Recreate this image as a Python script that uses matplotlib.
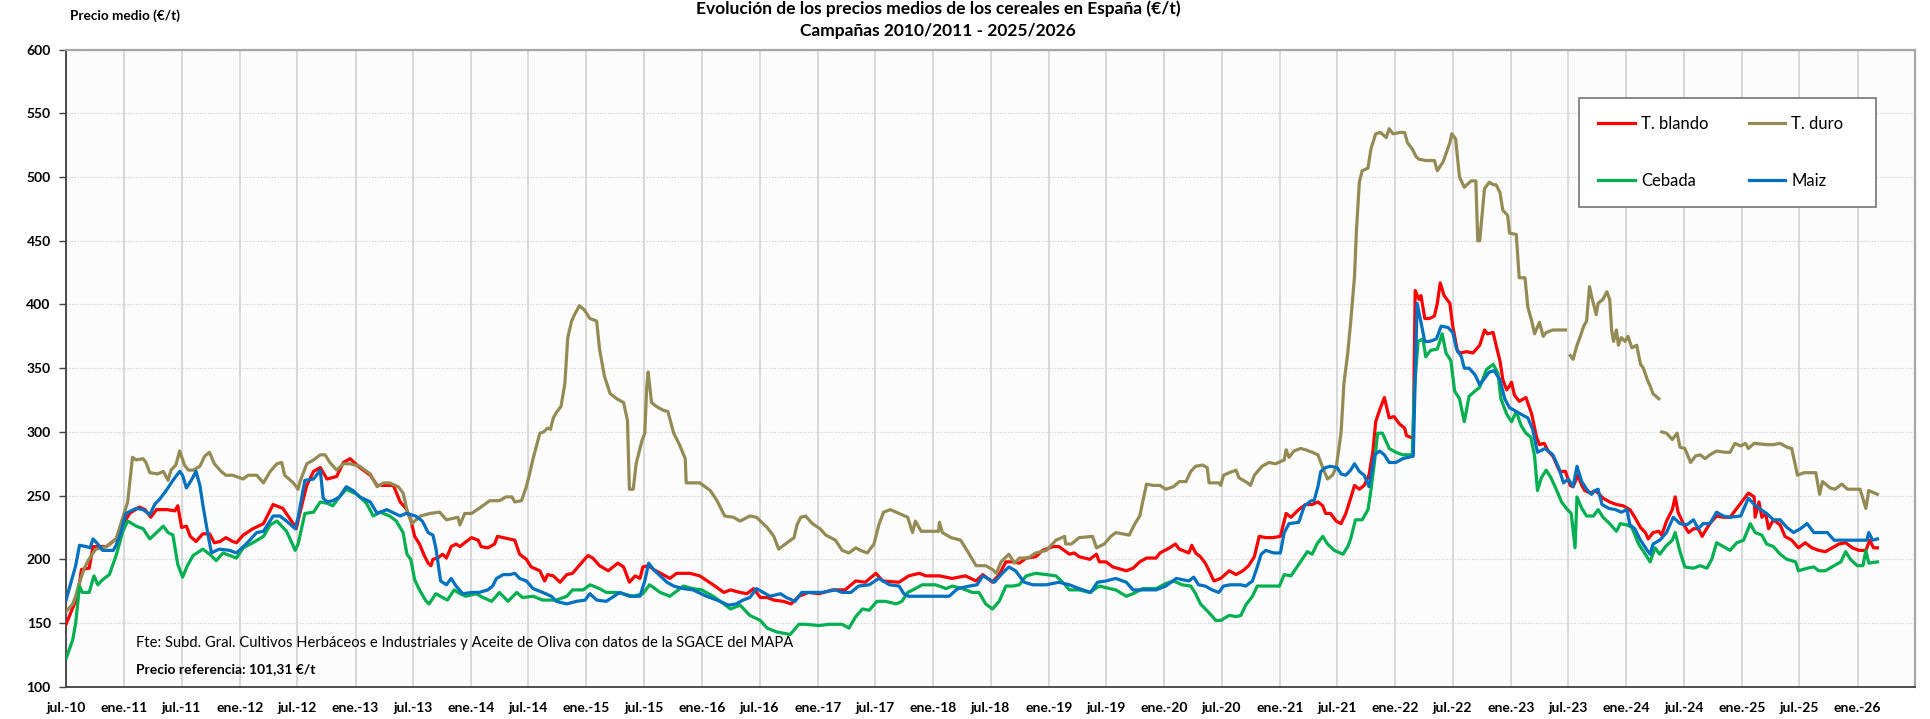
import numpy as np
import pandas as pd
import matplotlib
matplotlib.use("Agg")
import matplotlib.pyplot as plt
from matplotlib.patches import Rectangle

plt.rcParams['font.family'] = ['Lato', 'DejaVu Sans']

# ---------------- data (month offset from 1-jul-2010, price €/t) ----------------
T_BLANDO = [(0,149),(0.7,162),(1.2,171),(1.6,192),(2.4,193),(2.8,210),(4.2,210),(5.2,216),(5.9,227),(6.6,236),(7.6,241),(8.2,239),(8.8,233),(9.4,239),(10.5,239),(11.3,238),(11.6,242),(12.0,225),(12.5,226),(12.9,218),(13.5,214),(14.2,220),(14.9,220),(15.4,213),(16.0,214),(16.6,217),(17.3,214),(17.7,213),(18.4,219),(19.4,224),(20.5,228),(21.5,243),(22.5,240),(23.6,228),(23.9,224),(24.4,240),(25.0,258),(25.7,269),(26.4,272),(27.1,263),(28.1,265),(28.8,276),(29.5,279),(30.5,272),(31.6,266),(32.3,258),(34.0,258),(34.7,245),(35.3,240),(35.8,231),(36.2,218),(36.7,212),(37.2,203),(37.6,197),(37.9,195),(38.1,200),(38.6,201),(39.1,204),(39.5,201),(40.0,210),(40.5,212),(40.9,210),(41.4,213),(42.1,217),(42.8,215),(43.1,210),(43.8,209),(44.5,212),(44.8,218),(45.4,217),(46.6,215),(47.1,204),(47.8,200),(48.3,194),(49.2,191),(49.7,183),(50.0,188),(50.6,187),(51.3,182),(52.0,188),(52.6,189),(53.5,197),(54.2,203),(54.7,201),(55.4,195),(56.3,191),(57.3,197),(57.9,194),(58.5,182),(59.1,187),(59.6,185),(59.9,194),(60.5,195),(61.0,192),(62.0,188),(62.7,185),(63.4,189),(64.8,189),(65.8,187),(67.2,180),(68.3,174),(69.0,176),(70.0,174),(70.7,173),(71.4,177),(72.1,170),(72.8,170),(73.5,168),(74.5,167),(75.3,165),(76.1,171),(77.1,174),(78.2,173),(79.6,176),(80.9,176),(82.0,183),(83.0,182),(84.1,189),(84.8,183),(86.5,182),(87.5,187),(88.6,189),(89.3,187),(90.7,187),(92.0,185),(93.4,187),(94.5,183),(95.2,188),(96.2,182),(96.9,188),(97.6,198),(98.3,198),(99.0,197),(99.7,201),(100.7,202),(101.4,207),(102.5,210),(103.1,210),(104.2,204),(104.7,205),(105.2,202),(106.3,200),(107.0,204),(107.3,198),(108.0,198),(108.7,194),(110.1,191),(110.8,193),(111.5,198),(112.2,201),(113.2,201),(113.6,205),(114.6,209),(115.2,212),(115.6,208),(116.6,205),(116.9,211),(117.3,205),(117.8,202),(118.3,197),(118.7,191),(119.2,183),(119.9,185),(120.8,191),(121.5,188),(122.2,191),(122.8,195),(123.4,202),(123.9,218),(124.6,217),(125.3,217),(126.1,218),(126.7,236),(127.2,233),(128.0,239),(128.7,243),(129.4,243),(130.0,245),(130.5,242),(130.8,236),(131.3,236),(131.9,230),(132.4,228),(132.9,236),(133.4,248),(133.8,258),(134.3,255),(134.8,258),(135.3,266),(135.7,284),(136.0,308),(136.4,317),(136.9,327),(137.4,311),(137.9,312),(138.5,306),(139.0,303),(139.2,297),(139.9,295),(140.1,411),(140.5,404),(140.7,407),(141.1,389),(141.6,389),(142.1,391),(142.4,401),(142.7,417),(143.1,407),(143.7,401),(144.0,383),(144.5,363),(144.9,362),(145.4,363),(146.1,362),(146.8,368),(147.3,380),(147.6,377),(148.2,378),(148.5,368),(148.9,356),(149.2,341),(149.6,333),(149.9,336),(150.1,339),(150.4,329),(150.9,324),(151.6,327),(152.2,314),(152.7,296),(153.0,290),(153.5,291),(153.9,285),(154.4,281),(155.1,269),(155.7,269),(156.2,258),(156.5,257),(157.0,266),(157.4,258),(157.7,254),(158.3,252),(158.8,254),(159.1,252),(159.6,248),(160.3,245),(161.0,243),(161.7,242),(162.4,239),(162.9,233),(163.5,225),(164.0,221),(164.3,216),(164.8,221),(165.4,222),(165.7,219),(166.2,230),(166.8,239),(167.1,249),(167.4,237),(168.0,227),(168.5,221),(169.0,224),(169.5,224),(169.9,218),(170.2,222),(170.7,228),(171.4,234),(172.1,233),(172.8,233),(173.5,240),(174.0,245),(174.7,252),(175.3,249),(175.4,233),(175.8,245),(176.1,233),(176.5,236),(176.8,224),(177.3,231),(178.0,227),(178.5,218),(179.2,215),(179.9,209),(180.6,213),(181.3,209),(182.0,207),(182.7,206),(183.4,209),(184.1,212),(184.8,213),(185.5,209),(186.2,207),(186.9,207),(187.3,215),(187.7,209),(188.1,209)]

T_DURO = [(0,159),(0.7,165),(1.0,171),(1.4,182),(1.9,193),(2.3,199),(2.8,205),(3.1,208),(4.2,210),(5.2,216),(5.9,233),(6.4,245),(6.9,280),(7.3,278),(8.0,279),(8.3,276),(8.7,268),(9.5,267),(10.1,269),(10.6,262),(10.9,270),(11.4,274),(11.8,285),(12.3,274),(12.7,270),(13.2,270),(13.9,273),(14.4,281),(14.9,284),(15.4,275),(16.1,269),(16.6,266),(17.3,266),(18.4,263),(18.9,266),(19.8,266),(20.5,260),(21.2,269),(21.9,275),(22.4,276),(22.7,266),(23.6,260),(24.1,255),(24.3,261),(25.0,275),(25.7,278),(26.4,282),(26.9,282),(27.4,276),(28.1,270),(28.8,275),(29.5,275),(30.5,273),(31.6,267),(32.3,257),(33.0,260),(33.6,260),(34.5,257),(35.0,252),(35.4,239),(35.9,228),(36.8,234),(37.8,236),(38.8,237),(39.5,231),(40.7,233),(40.9,227),(41.4,236),(42.1,236),(42.9,240),(44.0,246),(45.0,246),(45.7,249),(46.3,249),(46.6,245),(47.3,246),(47.8,257),(48.1,266),(48.5,279),(49.2,299),(49.6,300),(50.0,303),(50.3,302),(50.6,311),(50.9,315),(51.4,320),(51.8,338),(52.1,374),(52.5,387),(52.8,392),(53.3,399),(53.8,396),(54.4,389),(55.1,387),(55.4,365),(55.9,344),(56.5,330),(57.2,326),(57.9,323),(58.3,309),(58.5,255),(58.9,255),(59.2,275),(59.8,293),(60.1,299),(60.3,335),(60.45,347),(60.8,323),(61.3,320),(62.0,317),(62.5,316),(63.1,299),(63.7,290),(64.3,279),(64.4,260),(65.8,260),(66.9,254),(67.6,246),(68.4,234),(69.3,233),(70.0,230),(71.0,234),(71.7,233),(72.8,225),(73.5,218),(74.0,208),(74.7,212),(75.6,217),(75.9,227),(76.3,233),(76.8,234),(77.5,228),(78.3,224),(78.9,219),(79.9,215),(80.6,207),(81.3,205),(82.0,209),(82.5,207),(83.2,205),(83.9,212),(84.4,227),(84.9,237),(85.6,239),(86.5,236),(87.4,233),(87.9,221),(88.2,230),(88.8,222),(89.6,222),(90.6,222),(90.7,229),(91.0,221),(91.9,217),(92.9,215),(93.8,204),(94.5,195),(95.5,195),(96.2,192),(96.6,189),(97.1,198),(97.9,204),(98.5,197),(99.0,201),(99.9,201),(100.7,205),(101.8,207),(102.8,215),(103.7,218),(103.8,212),(104.4,212),(105.2,217),(106.6,218),(107.0,209),(107.8,212),(108.5,218),(109.0,221),(110.4,219),(111.0,228),(111.5,234),(111.8,245),(112.2,259),(112.9,258),(113.6,258),(114.2,255),(115.0,257),(115.6,261),(116.3,261),(116.8,269),(117.3,273),(118.0,274),(118.5,272),(118.7,260),(119.7,260),(119.9,258),(120.2,266),(120.8,268),(121.5,270),(121.8,264),(122.7,260),(123.0,258),(123.4,266),(124.2,273),(124.9,276),(125.6,275),(126.5,278),(126.7,286),(127.0,280),(127.5,285),(128.2,287),(128.7,286),(129.4,284),(130.0,282),(130.3,276),(130.6,270),(131.0,263),(131.5,266),(131.9,272),(132.4,299),(132.7,338),(133.1,362),(133.4,386),(133.8,422),(134.0,458),(134.3,496),(134.6,505),(135.2,507),(135.5,522),(136.0,534),(136.5,535),(137.1,531),(137.4,538),(137.8,534),(138.5,535),(139.0,535),(139.3,527),(139.8,522),(140.2,516),(140.5,514),(141.2,513),(142.1,513),(142.4,505),(143.0,512),(143.7,527),(143.9,534),(144.3,530),(144.7,500),(145.2,492),(145.9,497),(146.4,497),(146.6,450),(146.8,450),(147.3,491),(147.8,496),(148.2,494),(148.5,494),(148.9,488),(149.2,474),(149.7,470),(149.9,456),(150.6,455),(150.9,421),(151.5,421),(151.8,398),(152.2,387),(152.5,377),(153.0,386),(153.4,375),(153.7,378),(154.4,380),(155.7,380),(155.95,np.nan),(156.2,360),(156.5,357),(156.9,368),(157.2,374),(157.6,383),(157.9,387),(158.2,414),(158.4,407),(158.6,401),(158.9,392),(159.1,401),(159.6,404),(160.0,410),(160.3,404),(160.5,380),(160.7,371),(161.0,380),(161.2,368),(161.5,374),(161.9,371),(162.2,375),(162.6,366),(163.1,368),(163.5,353),(163.8,350),(164.2,341),(164.5,336),(164.8,330),(165.4,326),(165.55,np.nan),(165.7,300),(166.2,299),(166.8,294),(167.3,299),(167.6,288),(168.1,287),(168.7,276),(169.2,281),(169.7,282),(170.2,279),(170.7,282),(171.4,285),(172.3,284),(172.8,284),(173.3,291),(173.9,289),(174.4,291),(174.7,287),(175.3,291),(176.6,290),(177.3,290),(178.0,291),(178.7,288),(179.2,287),(179.8,266),(180.5,268),(181.7,268),(182.1,251),(182.4,261),(183.2,256),(183.7,255),(184.4,259),(185.0,255),(185.7,255),(186.3,255),(186.9,240),(187.2,254),(188.1,251)]

CEBADA = [(0,122),(0.7,137),(1.0,150),(1.4,179),(1.7,174),(2.4,174),(2.9,187),(3.3,180),(3.8,184),(4.5,188),(5.2,203),(5.9,222),(6.4,230),(7.3,226),(8.0,224),(8.7,216),(9.4,221),(10.1,226),(10.6,221),(11.1,219),(11.6,196),(12.1,186),(12.6,195),(13.2,203),(14.2,208),(14.9,204),(15.6,199),(16.3,205),(17.0,203),(17.7,201),(18.4,209),(19.4,213),(20.5,218),(21.2,227),(21.9,230),(22.9,222),(23.8,207),(24.1,212),(24.8,236),(25.7,237),(26.4,245),(27.1,244),(27.7,242),(28.4,249),(29.1,255),(30.2,251),(31.2,244),(31.9,234),(32.6,237),(33.6,234),(34.3,230),(35.0,221),(35.4,204),(35.8,200),(36.2,184),(36.7,176),(37.4,167),(37.7,165),(38.4,173),(39.1,170),(39.6,168),(40.3,176),(40.9,173),(41.5,171),(42.6,173),(43.3,170),(44.2,167),(45.0,174),(45.9,167),(46.8,174),(47.4,170),(48.5,171),(49.5,168),(50.9,168),(52.0,171),(52.6,176),(53.7,176),(54.4,180),(55.4,177),(56.1,174),(57.3,174),(58.9,171),(59.9,173),(60.6,180),(61.7,174),(62.7,171),(64.1,179),(65.1,177),(66.0,176),(67.2,171),(68.3,165),(69.0,161),(70.0,164),(71.0,156),(72.1,152),(72.8,146),(73.8,143),(75.2,141),(76.1,149),(76.8,149),(78.2,148),(79.2,149),(80.6,149),(81.3,146),(82.0,155),(82.7,161),(83.4,160),(84.2,167),(85.1,167),(86.2,165),(86.8,167),(87.4,174),(88.2,177),(88.9,180),(90.3,180),(91.4,177),(92.0,179),(93.1,177),(94.1,174),(94.8,174),(95.5,165),(96.2,161),(96.9,167),(97.6,179),(98.3,179),(99.0,180),(99.7,187),(100.7,189),(101.8,188),(102.8,187),(103.5,182),(104.2,176),(105.2,176),(106.3,174),(107.3,179),(108.4,177),(109.0,176),(110.1,171),(110.8,173),(111.8,177),(113.2,177),(114.2,181),(115.0,183),(115.9,180),(116.8,179),(117.3,173),(117.8,165),(118.7,158),(119.4,152),(119.9,152),(120.8,156),(121.5,155),(122.0,156),(122.5,164),(123.2,171),(123.7,179),(124.6,179),(126.0,179),(126.5,188),(127.2,187),(128.0,196),(128.9,206),(129.4,204),(129.9,212),(130.5,218),(131.0,212),(131.7,207),(132.6,204),(133.1,210),(133.4,216),(133.9,231),(134.6,231),(135.2,239),(135.5,254),(135.9,278),(136.2,299),(136.7,299),(137.4,287),(138.1,284),(138.8,282),(139.8,282),(140.0,332),(140.4,371),(140.9,373),(141.2,359),(141.7,364),(142.4,365),(142.9,377),(143.3,362),(143.8,356),(144.2,332),(144.7,326),(145.2,308),(145.7,328),(146.3,332),(146.8,335),(147.5,349),(148.2,353),(148.7,346),(149.0,326),(149.6,314),(150.1,308),(150.6,316),(151.1,305),(151.6,299),(152.1,296),(152.5,281),(152.8,254),(153.2,264),(153.7,270),(154.2,264),(154.8,254),(155.3,245),(155.8,240),(156.3,236),(156.7,209),(156.9,249),(157.4,240),(157.9,234),(158.6,234),(159.1,239),(159.6,233),(160.3,228),(161.0,222),(161.4,228),(162.1,227),(162.6,225),(163.3,212),(164.0,204),(164.5,198),(165.0,209),(165.5,204),(166.1,210),(166.8,215),(167.1,221),(167.6,206),(168.1,194),(169.0,193),(169.7,195),(170.4,193),(170.9,200),(171.4,213),(172.1,210),(172.8,207),(173.5,213),(174.2,215),(174.9,228),(175.4,221),(176.1,219),(176.6,212),(177.3,210),(178.0,204),(178.7,200),(179.6,198),(179.9,191),(180.8,193),(181.5,194),(182.0,191),(182.7,191),(183.6,195),(184.3,198),(184.8,206),(185.3,200),(186.0,195),(186.6,195),(186.9,207),(187.2,197),(188.1,198)]

MAIZ = [(0,168),(0.7,187),(1.0,195),(1.4,211),(2.1,210),(2.5,209),(2.8,216),(3.3,212),(3.8,207),(4.9,207),(5.2,211),(5.7,221),(6.2,236),(7.3,240),(8.0,239),(8.7,235),(9.2,243),(9.7,247),(10.4,254),(11.1,262),(11.8,269),(12.1,266),(12.5,256),(13.0,262),(13.5,269),(13.9,258),(14.2,243),(14.7,221),(15.1,205),(15.9,208),(17.0,207),(17.7,205),(18.7,212),(19.8,221),(20.5,222),(21.5,234),(22.2,234),(22.9,230),(23.8,224),(24.1,233),(24.8,262),(25.7,263),(26.4,270),(26.7,248),(27.1,245),(27.7,246),(28.4,249),(29.1,257),(29.8,254),(30.5,249),(31.6,245),(32.3,236),(33.3,239),(34.7,234),(35.3,236),(36.3,234),(37.0,230),(37.6,221),(38.1,219),(38.4,209),(38.8,188),(38.9,183),(39.5,180),(40.0,185),(40.5,179),(41.2,173),(42.1,174),(42.9,174),(43.8,176),(44.3,179),(44.7,185),(45.4,188),(46.1,188),(46.6,189),(47.1,185),(47.8,183),(48.5,177),(49.5,174),(50.4,171),(50.9,167),(52.0,165),(53.0,167),(53.9,168),(54.4,173),(55.1,168),(56.1,167),(57.5,174),(58.5,171),(59.6,171),(60.1,183),(60.5,197),(61.0,192),(61.7,187),(62.4,182),(63.1,179),(64.1,177),(65.1,176),(66.5,171),(67.6,168),(68.8,164),(69.6,165),(70.3,168),(71.0,170),(71.7,177),(72.4,174),(73.1,171),(74.2,173),(74.8,170),(75.7,167),(76.4,174),(77.1,174),(78.5,174),(79.9,176),(80.6,174),(81.5,174),(82.3,179),(83.4,180),(84.4,185),(85.5,180),(86.5,179),(87.0,173),(87.5,171),(88.9,171),(90.3,171),(91.7,171),(92.6,177),(93.8,179),(94.6,180),(95.2,187),(95.7,185),(96.4,182),(97.1,188),(97.9,194),(98.6,191),(99.5,182),(100.4,180),(101.8,180),(103.1,182),(104.2,180),(105.2,177),(106.4,174),(107.1,182),(108.0,183),(109.0,185),(110.1,182),(110.8,176),(111.5,176),(113.2,176),(114.2,179),(115.3,185),(116.6,183),(117.1,186),(117.6,180),(118.3,179),(119.0,176),(119.7,174),(120.2,179),(120.9,180),(122.0,180),(122.5,179),(123.2,183),(123.7,194),(124.1,204),(124.6,207),(125.4,205),(126.1,205),(126.5,221),(127.0,228),(128.0,229),(128.6,242),(129.3,246),(129.6,246),(130.0,257),(130.3,269),(130.8,272),(131.3,273),(132.0,272),(132.4,267),(132.9,266),(133.4,270),(133.8,275),(134.3,269),(134.8,266),(135.3,257),(135.9,282),(136.4,285),(136.9,282),(137.4,276),(138.1,276),(138.8,279),(139.9,281),(140.3,401),(140.7,386),(141.1,371),(141.6,371),(142.3,373),(142.8,383),(143.5,382),(144.0,378),(144.4,365),(144.9,359),(145.2,350),(145.7,350),(146.3,345),(146.8,337),(147.3,342),(147.8,347),(148.3,348),(148.9,341),(149.4,326),(149.9,319),(150.6,316),(151.3,313),(151.8,311),(152.3,302),(152.8,284),(153.6,287),(154.4,282),(155.0,272),(155.5,260),(156.0,263),(156.5,257),(156.9,273),(157.4,261),(157.9,255),(158.4,251),(158.8,254),(159.1,255),(159.5,243),(160.2,240),(160.9,239),(161.5,237),(162.1,239),(162.4,227),(162.9,224),(163.5,215),(164.2,207),(164.5,204),(164.8,212),(165.5,215),(166.2,221),(166.9,233),(167.6,228),(168.3,227),(169.0,231),(169.5,224),(170.0,228),(170.7,228),(171.4,237),(172.1,234),(172.8,233),(173.9,234),(174.7,248),(175.3,243),(176.0,239),(176.6,236),(177.3,231),(178.0,231),(178.7,225),(179.4,221),(180.1,224),(180.8,228),(181.5,221),(182.2,221),(182.9,221),(183.6,215),(184.3,215),(185.3,215),(186.4,215),(187.0,215),(187.2,221),(187.6,215),(188.1,216)]

SERIES_NAMES = ['T. blando', 'T. duro', 'Cebada', 'Maiz']
SERIES_COLORS = ['#FF0000', '#948A54', '#00B050', '#0070C0']
START = pd.Timestamp('2010-07-01')
TICK_YEARS = list(range(2010, 2027))
Y_TICKS = list(range(100, 601, 50))

TITLE_1 = 'Evolución de los precios medios de los cereales en España (€/t)'
TITLE_2 = 'Campañas 2010/2011 - 2025/2026'
Y_LABEL = 'Precio medio (€/t)'
SOURCE = 'Fte: Subd. Gral. Cultivos Herbáceos e Industriales y Aceite de Oliva con datos de la SGACE del MAPA'
REFERENCE = 'Precio referencia: 101,31 €/t'


def to_dates(series):
    t = np.array([p[0] for p in series], dtype=float)
    v = np.array([p[1] for p in series], dtype=float)
    d = START + pd.to_timedelta(t * 30.4375, unit='D')
    return d, v


fig = plt.figure(figsize=(19.31, 7.19), dpi=100)
ax = fig.add_axes([0.0342, 0.0449, 0.9575, 0.886])
ax.set_facecolor('#fcfcfc')

lines = []
for data, name, col in zip([T_BLANDO, T_DURO, CEBADA, MAIZ], SERIES_NAMES, SERIES_COLORS):
    d, v = to_dates(data)
    ln, = ax.plot(d, v, color=col, lw=2.3, label=name, solid_joinstyle='round', zorder=3)
    lines.append(ln)

# axes limits & ticks
tick_dates = []
tick_labels = []
for y in TICK_YEARS:
    if y > 2010:
        tick_dates.append(pd.Timestamp(f'{y}-01-01'))
        tick_labels.append(f'ene.-{y % 100:02d}')
    if y < 2026:
        tick_dates.append(pd.Timestamp(f'{y}-07-01'))
        tick_labels.append(f'jul.-{y % 100:02d}')
order = np.argsort(tick_dates)
tick_dates = [tick_dates[i] for i in order]
tick_labels = [tick_labels[i] for i in order]

ax.set_xlim(pd.Timestamp('2010-07-01'), pd.Timestamp('2026-07-01'))
ax.set_ylim(100, 600)
ax.set_xticks(tick_dates)
ax.set_xticklabels(tick_labels, fontsize=10, fontweight='bold')
ax.set_yticks(Y_TICKS)
ax.set_yticklabels([str(v) for v in Y_TICKS], fontsize=10, fontweight='bold')
ax.tick_params(axis='x', length=0, pad=11)
ax.tick_params(axis='y', length=5, width=1, direction='out', pad=6, color='#404040')

ax.yaxis.grid(True, linestyle=(0, (1, 1.5)), color='#cfcfcf', lw=0.8, zorder=0)
ax.xaxis.grid(True, linestyle='-', color='#d9d9d9', lw=1.4, zorder=0)
ax.set_axisbelow(True)

for s in ['left', 'bottom']:
    ax.spines[s].set_color('#404040')
    ax.spines[s].set_linewidth(1.3)
for s in ['top', 'right']:
    ax.spines[s].set_color('#a6a6a6')
    ax.spines[s].set_linewidth(1.6)

# legend: manual frame + two single-column legends
W, H = 1931.0, 719.0
box = Rectangle((1579 / W, 1 - 207 / H), (1876 - 1579) / W, (207 - 98.5) / H,
                transform=fig.transFigure, facecolor='white', edgecolor='#7f7f7f',
                lw=1.3, zorder=5)
fig.patches.append(box)
leg_kw = dict(loc='center left', frameon=False, fontsize=12, labelspacing=2.45,
              handlelength=2.2, handletextpad=0.35, borderpad=0, borderaxespad=0)
ymid = 1 - 152.1 / H
leg1 = fig.legend([lines[0], lines[2]], [SERIES_NAMES[0], SERIES_NAMES[2]],
                  bbox_to_anchor=(1598.5 / W, ymid), **leg_kw)
leg2 = fig.legend([lines[1], lines[3]], [SERIES_NAMES[1], SERIES_NAMES[3]],
                  bbox_to_anchor=(1748.7 / W, ymid), **leg_kw)
leg1.set_zorder(6)
leg2.set_zorder(6)

# texts
fig.text(0.4857, 0.9885, TITLE_1, ha='center', va='center', fontsize=12.5, fontweight='bold')
fig.text(0.4857, 0.957, TITLE_2, ha='center', va='center', fontsize=12.5, fontweight='bold')
fig.text(0.0363, 0.978, Y_LABEL, ha='left', va='center', fontsize=9.8, fontweight='bold')
fig.text(0.0702, 0.1057, SOURCE, ha='left', va='center', fontsize=10.6)
fig.text(0.0702, 0.0695, REFERENCE, ha='left', va='center', fontsize=10, fontweight='bold')

fig.savefig('out.png', dpi=100, facecolor='white')
